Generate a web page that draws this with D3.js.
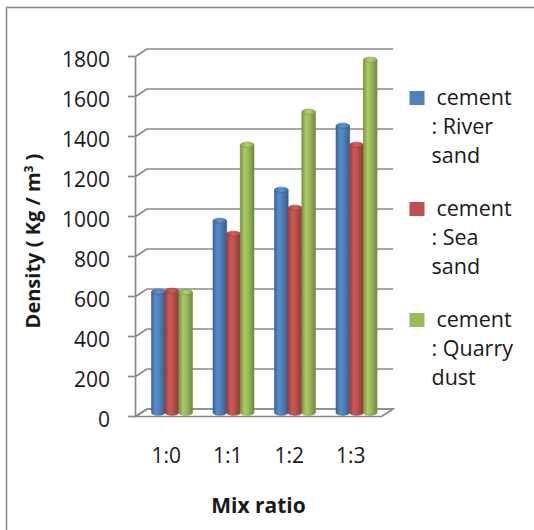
<!DOCTYPE html>
<html>
<head>
<meta charset="utf-8">
<script src="https://cdn.jsdelivr.net/npm/d3@7/dist/d3.min.js"></script>
<style>
  html, body { margin: 0; padding: 0; background: #ffffff; }
  svg { display: block; }
  text { font-family: "Open Sans", "DejaVu Sans", sans-serif; fill: #1a1a1a; }
</style>
</head>
<body>
<svg id="chart" width="534" height="530"></svg>
<script>
// Mix ratios on the category axis
const categories = ["1:0", "1:1", "1:2", "1:3"];
// Density values (Kg/m3) for each fine aggregate
const riverSand  = [605, 960, 1115, 1435];
const seaSand    = [610, 895, 1025, 1340];
const quarryDust = [603, 1340, 1505, 1765];
// Value axis ticks
const yTicks = [0, 200, 400, 600, 800, 1000, 1200, 1400, 1600, 1800];
// Legend labels (wrapped as three lines each)
const seriesLabels = [
  ["cement", ": River", "sand"],
  ["cement", ": Sea", "sand"],
  ["cement", ": Quarry", "dust"]
];
const seriesColors = ["#4F81BD", "#C0504D", "#9BBB59"];

const series = [riverSand, seaSand, quarryDust];

const svg = d3.select("#chart");
const defs = svg.append("defs");

// Outer chart frame
svg.append("rect")
  .attr("x", 6.5).attr("y", 7.5)
  .attr("width", 560).attr("height", 560)
  .attr("fill", "#ffffff")
  .attr("stroke", "#8a8a8a").attr("stroke-width", 1.6);

// 3D plot geometry: front plane and depth offset
const front = { left: 135.5, right: 381.5, top: 56.5, bottom: 416.5 };
const depth = { dx: 11.5, dy: -7.5 };

const y = d3.scaleLinear().domain([0, 1800]).range([front.bottom, front.top]);
const x = d3.scaleBand().domain(categories)
  .range([front.left, front.right])
  .paddingInner(1 / 3).paddingOuter(1 / 6);
const xs = d3.scaleBand().domain(d3.range(series.length))
  .range([0, x.bandwidth()]).padding(0);

const gridColor = "#8a8a8a";
const grid = svg.append("g")
  .attr("fill", "none")
  .attr("stroke", gridColor)
  .attr("stroke-width", 1.7);

// Floor
grid.append("path")
  .attr("fill", "#ffffff")
  .attr("d", `M${front.left},${y(0)} L${front.right},${y(0)} L${front.right + depth.dx},${y(0) + depth.dy} L${front.left + depth.dx},${y(0) + depth.dy} Z`);

// Back-wall gridlines and side-wall diagonals
yTicks.forEach(t => {
  const fy = y(t);
  grid.append("line")
    .attr("x1", front.left + depth.dx).attr("x2", front.right + depth.dx)
    .attr("y1", fy + depth.dy).attr("y2", fy + depth.dy);
  grid.append("line")
    .attr("x1", front.left).attr("x2", front.left + depth.dx)
    .attr("y1", fy).attr("y2", fy + depth.dy);
  // tick mark on the front axis
  grid.append("line")
    .attr("x1", front.left - 7.5).attr("x2", front.left)
    .attr("y1", fy).attr("y2", fy);
});

// Front value axis line
grid.append("line")
  .attr("x1", front.left).attr("x2", front.left)
  .attr("y1", y(1800)).attr("y2", y(0));

// Value axis labels
svg.append("g").selectAll("text")
  .data(yTicks).join("text")
  .attr("x", 110).attr("y", d => y(d) + 10.5)
  .attr("text-anchor", "end")
  .attr("font-size", 21)
  .text(d => d);

// Category labels
svg.append("g").selectAll("text")
  .data(categories).join("text")
  .attr("x", d => x(d) + x.bandwidth() / 2)
  .attr("y", 462.5)
  .attr("text-anchor", "middle")
  .attr("font-size", 21)
  .text(d => d);

// Cylinder shading gradients
seriesColors.forEach((c, i) => {
  const base = d3.color(c);
  const g = defs.append("linearGradient")
    .attr("id", "cyl" + i)
    .attr("x1", "0%").attr("x2", "100%").attr("y1", "0%").attr("y2", "0%");
  g.append("stop").attr("offset", "0%").attr("stop-color", base.darker(0.7));
  g.append("stop").attr("offset", "30%").attr("stop-color", base.brighter(0.25));
  g.append("stop").attr("offset", "55%").attr("stop-color", base);
  g.append("stop").attr("offset", "100%").attr("stop-color", base.darker(0.9));
  const gt = defs.append("linearGradient")
    .attr("id", "cap" + i)
    .attr("x1", "0%").attr("x2", "100%").attr("y1", "0%").attr("y2", "0%");
  gt.append("stop").attr("offset", "0%").attr("stop-color", base.darker(0.3));
  gt.append("stop").attr("offset", "50%").attr("stop-color", base.brighter(0.35));
  gt.append("stop").attr("offset", "100%").attr("stop-color", base.darker(0.3));
});

// Bars: cylinders standing at mid depth
const mid = { dx: depth.dx / 2, dy: depth.dy / 2 };
const capRy = 2.6;
const bars = svg.append("g");
categories.forEach((cat, ci) => {
  series.forEach((vals, si) => {
    const w = xs.bandwidth();
    const x0 = x(cat) + xs(si) + mid.dx;
    const cx = x0 + w / 2;
    const top = y(vals[ci]) + mid.dy;
    const bot = y(0) + mid.dy;
    const rx = w / 2;
    const body = `M${x0},${top} L${x0},${bot} A${rx},${capRy} 0 0 0 ${x0 + w},${bot} L${x0 + w},${top} Z`;
    bars.append("path")
      .attr("d", body)
      .attr("fill", `url(#cyl${si})`)
      .attr("stroke", d3.color(seriesColors[si]).darker(0.8))
      .attr("stroke-width", 0.6);
    bars.append("ellipse")
      .attr("cx", cx).attr("cy", top)
      .attr("rx", rx).attr("ry", capRy)
      .attr("fill", `url(#cap${si})`)
      .attr("stroke", d3.color(seriesColors[si]).darker(0.8))
      .attr("stroke-width", 0.6);
  });
});

// Axis titles
const yTitle = svg.append("text")
  .attr("transform", "translate(40,241) rotate(-90)")
  .attr("text-anchor", "middle")
  .attr("font-size", 20)
  .attr("font-weight", "bold");
yTitle.append("tspan").text("Density ( Kg / m");
yTitle.append("tspan").attr("font-size", 12).attr("baseline-shift", "55%").text("3");
yTitle.append("tspan").text(" )");

svg.append("text")
  .attr("x", 258.5).attr("y", 513)
  .attr("text-anchor", "middle")
  .attr("font-size", 21)
  .attr("font-weight", "bold")
  .text("Mix ratio");

// Legend
const legend = svg.append("g");
seriesLabels.forEach((lines, i) => {
  const baseY = 105 + i * 111;
  legend.append("rect")
    .attr("x", 409.5).attr("y", baseY - 14)
    .attr("width", 15).attr("height", 14)
    .attr("fill", seriesColors[i]);
  lines.forEach((ln, li) => {
    legend.append("text")
      .attr("x", li === 0 ? 436.5 : 431.5)
      .attr("y", baseY + li * 28.8)
      .attr("font-size", 21.5)
      .text(ln);
  });
});
</script>
</body>
</html>
